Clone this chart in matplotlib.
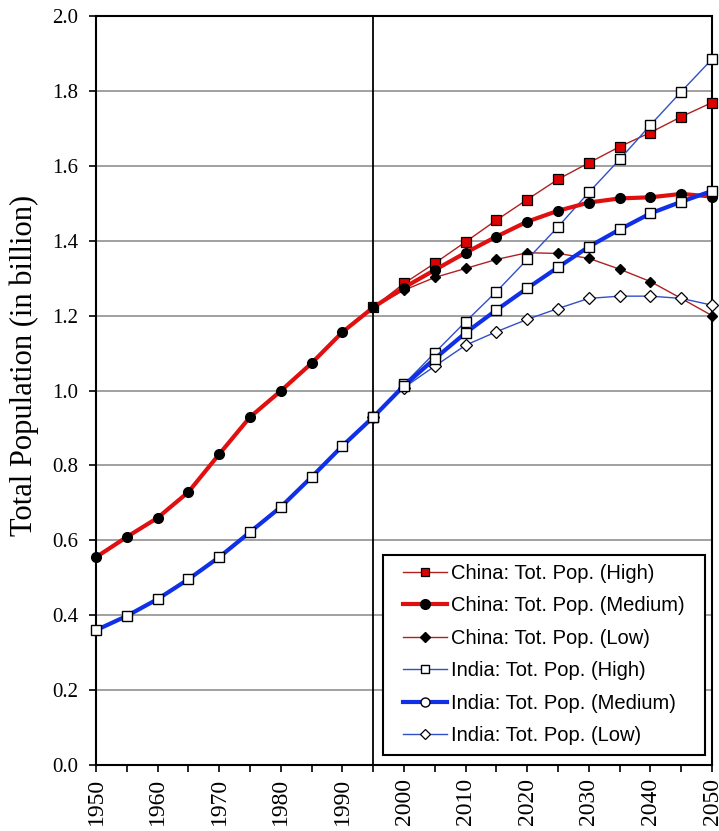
import matplotlib
matplotlib.use("Agg")
from matplotlib import pyplot as plt
from matplotlib.lines import Line2D
from matplotlib.patches import Rectangle
import numpy as np

# values (billion)
years = [1950, 1955, 1960, 1965, 1970, 1975, 1980, 1985, 1990, 1995, 2000,
         2005, 2010, 2015, 2020, 2025, 2030, 2035, 2040, 2045, 2050]
proj_years = [1995, 2000, 2005, 2010, 2015, 2020, 2025, 2030, 2035, 2040, 2045, 2050]

china_med = [0.555, 0.609, 0.660, 0.729, 0.830, 0.929, 0.999, 1.073, 1.156, 1.222, 1.275,
             1.322, 1.368, 1.411, 1.451, 1.480, 1.502, 1.513, 1.516, 1.525, 1.518]
china_high = [1.222, 1.286, 1.340, 1.397, 1.455, 1.510, 1.564, 1.608, 1.651, 1.689, 1.731, 1.769]
china_low = [1.222, 1.268, 1.302, 1.326, 1.350, 1.368, 1.366, 1.353, 1.324, 1.291, 1.246, 1.200]

india_med = [0.360, 0.398, 0.443, 0.496, 0.555, 0.622, 0.689, 0.769, 0.852, 0.929, 1.013,
             1.085, 1.154, 1.215, 1.273, 1.329, 1.384, 1.430, 1.473, 1.504, 1.533]
india_high = [0.929, 1.017, 1.101, 1.184, 1.264, 1.350, 1.437, 1.529, 1.617, 1.709, 1.798, 1.885]
india_low = [0.929, 1.008, 1.065, 1.121, 1.157, 1.190, 1.219, 1.246, 1.252, 1.252, 1.246, 1.228]

labels = ["China: Tot. Pop. (High)", "China: Tot. Pop. (Medium)", "China: Tot. Pop. (Low)",
          "India: Tot. Pop. (High)", "India: Tot. Pop. (Medium)", "India: Tot. Pop. (Low)"]

red_thin = "#b02020"
red_thick = "#e01010"
blue_thin = "#3050c8"
blue_thick = "#1030e8"

fig = plt.figure(figsize=(7.19, 8.31), dpi=100)
ax = fig.add_axes([0.1335, 0.0794, 0.8568, 0.9013])

for y in np.arange(0.2, 2.0, 0.2):
    ax.axhline(y, color="#9a9a9a", lw=1.3, zorder=1)
ax.axvline(1995, color="black", lw=1.3, zorder=1.5)

ax.plot(proj_years, china_high, color=red_thin, lw=1.0, marker="s", ms=6.5,
        mfc="#dd0000", mec="black", mew=0.9, zorder=3, clip_on=False)
ax.plot(proj_years, china_low, color=red_thin, lw=1.0, marker="D", ms=5.5,
        mfc="black", mec="black", zorder=3, clip_on=False)
ax.plot(years, china_med, color=red_thick, lw=3.0, marker="o", ms=7,
        mfc="black", mec="black", zorder=4, clip_on=False)

ax.plot(proj_years, india_high, color=blue_thin, lw=1.0, marker="s", ms=6.5,
        mfc="white", mec="black", mew=1.0, zorder=3, clip_on=False)
ax.plot(proj_years, india_low, color=blue_thin, lw=1.0, marker="D", ms=6,
        mfc="white", mec="black", mew=0.9, zorder=3, clip_on=False)
ax.plot(years, india_med, color=blue_thick, lw=3.0, marker="s", ms=6.5,
        mfc="white", mec="black", mew=1.0, zorder=4, clip_on=False)

ax.set_xlim(1950, 2050)
ax.set_ylim(0, 2.0)
ax.set_xticks(np.arange(1950, 2051, 5))
ax.set_xticklabels([str(y) if y % 10 == 0 else "" for y in range(1950, 2051, 5)],
                   rotation=90, family="Liberation Serif", fontsize=17)
ax.set_yticks(np.arange(0, 2.01, 0.2))
ax.set_yticklabels(["%.1f" % v for v in np.arange(0, 2.01, 0.2)],
                   family="Liberation Serif", fontsize=15)
ax.tick_params(axis="both", direction="out", length=5, width=1.2, color="black")
ax.tick_params(axis="y", pad=8)
ax.tick_params(axis="x", pad=4)
for s in ax.spines.values():
    s.set_linewidth(1.5)
    s.set_color("black")

ax.set_ylabel("Total Population (in billion)", family="Liberation Serif", fontsize=22)
ax.yaxis.set_label_coords(-0.093, 0.534)

# legend box drawn separately so its padding can match the picture
ax.add_patch(Rectangle((0.466, 0.0134), 0.5226, 0.267, transform=ax.transAxes,
                       facecolor="white", edgecolor="black", lw=1.5, zorder=9))

handles = [
    Line2D([], [], color=red_thin, lw=1.0, marker="s", ms=6, mfc="#dd0000", mec="black", mew=0.9),
    Line2D([], [], color=red_thick, lw=3.0, marker="o", ms=7, mfc="black", mec="black"),
    Line2D([], [], color=red_thin, lw=1.0, marker="D", ms=5, mfc="black", mec="black"),
    Line2D([], [], color=blue_thin, lw=1.0, marker="s", ms=6, mfc="white", mec="black", mew=1.0),
    Line2D([], [], color=blue_thick, lw=3.0, marker="o", ms=6.5, mfc="white", mec="black", mew=1.0),
    Line2D([], [], color=blue_thin, lw=1.0, marker="D", ms=5.5, mfc="white", mec="black", mew=0.9),
]
leg = ax.legend(handles, labels, loc="upper left", bbox_to_anchor=(0.4984, 0.2684),
                borderaxespad=0, borderpad=0, prop={"family": "Liberation Sans", "size": 14.5},
                handlelength=2.2, handletextpad=0.2, labelspacing=0.67, frameon=False)
leg.set_zorder(10)

fig.savefig("out.png", dpi=100)
